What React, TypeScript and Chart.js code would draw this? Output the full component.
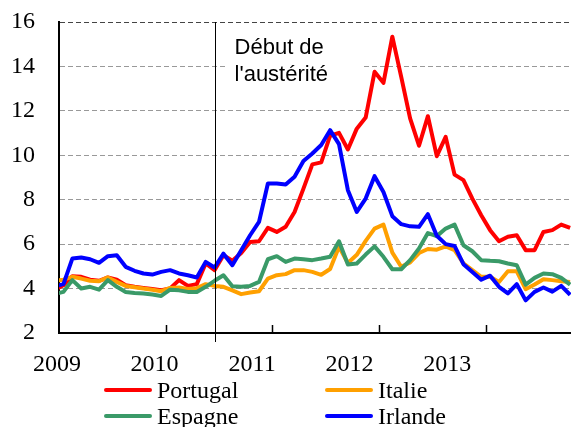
import React, { useEffect, useRef } from 'react';
import { Chart, registerables } from 'chart.js';

Chart.register(...registerables);

// Months (Dec 2008 .. Oct 2013)
const months = [
  '2008-12',
  '2009-01', '2009-02', '2009-03', '2009-04', '2009-05', '2009-06', '2009-07', '2009-08', '2009-09', '2009-10', '2009-11', '2009-12',
  '2010-01', '2010-02', '2010-03', '2010-04', '2010-05', '2010-06', '2010-07', '2010-08', '2010-09', '2010-10', '2010-11', '2010-12',
  '2011-01', '2011-02', '2011-03', '2011-04', '2011-05', '2011-06', '2011-07', '2011-08', '2011-09', '2011-10', '2011-11', '2011-12',
  '2012-01', '2012-02', '2012-03', '2012-04', '2012-05', '2012-06', '2012-07', '2012-08', '2012-09', '2012-10', '2012-11', '2012-12',
  '2013-01', '2013-02', '2013-03', '2013-04', '2013-05', '2013-06', '2013-07', '2013-08', '2013-09', '2013-10',
];

const portugal = [
  3.95,
  4.15, 4.56, 4.53, 4.4, 4.35, 4.5, 4.4, 4.15, 4.08, 4.03, 3.98, 3.93,
  4.0, 4.38, 4.12, 4.2, 5.13, 4.83, 5.5, 5.25, 5.6, 6.1, 6.13, 6.73,
  6.55, 6.78, 7.45, 8.5, 9.59, 9.68, 10.88, 11.01, 10.26, 11.2, 11.7, 13.76,
  13.26, 15.34, 13.53, 11.66, 10.43, 11.76, 9.96, 10.83, 9.13, 8.88, 8.05, 7.3,
  6.63, 6.13, 6.33, 6.4, 5.73, 5.73, 6.55, 6.63, 6.88, 6.73,
];

const italie = [
  4.35,
  4.4, 4.53, 4.45, 4.35, 4.33, 4.5, 4.3, 4.12, 4.06, 4.0, 3.95, 3.88,
  4.03, 4.05, 3.98, 4.02, 4.2, 4.12, 4.08, 3.92, 3.75, 3.82, 3.88, 4.45,
  4.6, 4.65, 4.83, 4.83, 4.75, 4.62, 4.88, 5.88, 5.15, 5.52, 6.15, 6.7,
  6.88, 5.62, 4.98, 5.18, 5.6, 5.78, 5.75, 5.9, 5.73, 5.13, 4.83, 4.53,
  4.53, 4.3, 4.78, 4.78, 3.97, 4.18, 4.42, 4.38, 4.33, 4.3,
];

const espagne = [
  3.75,
  3.85, 4.38, 4.0, 4.08, 3.95, 4.38, 4.08, 3.85, 3.8, 3.78, 3.73, 3.67,
  3.95, 3.92, 3.85, 3.85, 4.08, 4.35, 4.6, 4.1, 4.08, 4.12, 4.3, 5.32,
  5.46, 5.2, 5.35, 5.32, 5.28, 5.35, 5.43, 6.13, 5.08, 5.13, 5.53, 5.9,
  5.43, 4.87, 4.87, 5.28, 5.8, 6.5, 6.36, 6.7, 6.88, 5.95, 5.68, 5.28,
  5.25, 5.23, 5.13, 5.05, 4.18, 4.48, 4.68, 4.65, 4.48, 4.18,
];

const irlande = [
  4.1,
  4.2, 5.35, 5.4, 5.32, 5.16, 5.46, 5.5, 4.98, 4.8, 4.68, 4.63, 4.75,
  4.83, 4.68, 4.6, 4.5, 5.2, 4.95, 5.57, 5.05, 5.73, 6.4, 7.0, 8.73,
  8.73, 8.68, 9.03, 9.74, 10.08, 10.46, 11.13, 10.5, 8.43, 7.45, 8.05, 9.06,
  8.35, 7.26, 6.9, 6.8, 6.78, 7.35, 6.38, 6.0, 5.92, 5.1, 4.75, 4.4,
  4.58, 4.08, 3.78, 4.2, 3.47, 3.85, 4.05, 3.86, 4.12, 3.72,
];

const seriesNames = ['Portugal', 'Italie', 'Espagne', 'Irlande'];
const seriesColors = ['#ff0000', '#ffa000', '#3a9a68', '#0000ff'];
const seriesValues = [portugal, italie, espagne, irlande];

const yearLabels = ['2009', '2010', '2011', '2012', '2013'];
const yearStarts = ['2010-01', '2011-01', '2012-01', '2013-01'];
const austerityMonth = '2010-06';
const annotationLines = ['Début de', "l'austérité"];

const SERIF = '"Liberation Serif", "Times New Roman", serif';
const SANS = '"Liberation Sans", Arial, sans-serif';

const overlayPlugin = {
  id: 'overlay',
  beforeDatasetsDraw(chart: any) {
    const { ctx, chartArea, scales } = chart;
    const vx = scales.x.getPixelForValue(months.indexOf(austerityMonth));
    ctx.save();
    ctx.fillStyle = '#ffffff';
    ctx.fillRect(vx + 11, chartArea.top + 8, 137, 66);
    ctx.fillStyle = '#000';
    ctx.font = `22px ${SANS}`;
    ctx.textAlign = 'left';
    ctx.textBaseline = 'alphabetic';
    ctx.fillText(annotationLines[0], vx + 20, chartArea.top + 31.5);
    ctx.fillText(annotationLines[1], vx + 20, chartArea.top + 58.5);
    ctx.restore();
  },
  afterDatasetsDraw(chart: any) {
    const { ctx, chartArea, scales } = chart;
    const xs = scales.x;
    ctx.save();
    ctx.strokeStyle = '#000';
    ctx.lineWidth = 1.5;
    ctx.beginPath();
    yearStarts.forEach((m) => {
      const px = Math.round(xs.getPixelForValue(months.indexOf(m) - 0.5)) + 0.5;
      ctx.moveTo(px, chartArea.bottom);
      ctx.lineTo(px, chartArea.bottom - 8);
    });
    ctx.stroke();
    const vx = Math.round(xs.getPixelForValue(months.indexOf(austerityMonth))) + 0.5;
    ctx.lineWidth = 1;
    ctx.beginPath();
    ctx.moveTo(vx, chartArea.top);
    ctx.lineTo(vx, chartArea.bottom + 9);
    ctx.stroke();
    // year labels, positioned through the x2 scale
    const x2 = scales.x2;
    ctx.fillStyle = '#000';
    ctx.font = `24px ${SERIF}`;
    ctx.textAlign = 'center';
    ctx.textBaseline = 'middle';
    yearLabels.forEach((lab, k) => {
      ctx.fillText(lab, x2.getPixelForValue(2009 + k), chartArea.bottom + 32);
    });
    ctx.restore();
  },
};

export default function App() {
  const canvasRef = useRef<HTMLCanvasElement | null>(null);

  useEffect(() => {
    if (!canvasRef.current) return;
    const datasets = seriesNames.map((name, k) => ({
      label: name,
      data: seriesValues[k].map((v, i) => ({ x: i, y: v })),
      borderColor: seriesColors[k],
      backgroundColor: seriesColors[k],
      borderWidth: 4,
      pointRadius: 0,
      tension: 0,
      borderJoinStyle: 'round' as const,
      fill: false,
      order: seriesNames.length - k,
    }));
    const chart = new Chart(canvasRef.current, {
      type: 'line',
      data: { datasets },
      options: {
        animation: false,
        responsive: true,
        maintainAspectRatio: false,
        layout: { padding: { left: 12, top: 22, right: 0, bottom: 94 } },
        plugins: { legend: { display: false }, tooltip: { enabled: false } },
        scales: {
          x: {
            type: 'linear',
            position: 'bottom',
            min: 0.5,
            max: 58.1,
            grid: { display: false, drawTicks: false },
            border: { display: true, color: '#000', width: 2 },
            ticks: { display: false },
          },
          x2: {
            type: 'linear',
            position: 'bottom',
            display: false,
            min: 2009.02,
            max: 2014.27,
          },
          y: {
            min: 2,
            max: 16,
            afterFit: (scale: any) => {
              scale.width = 47;
              scale.paddingTop = 0;
              scale.paddingBottom = 0;
            },
            grid: {
              drawTicks: false,
              color: (c: any) => (c.tick && c.tick.value === 16 ? '#444' : '#999'),
              lineWidth: 1,
            },
            border: { display: true, color: '#000', width: 2, dash: [5, 3] },
            ticks: {
              stepSize: 2,
              padding: 24,
              color: '#000',
              font: { family: SERIF, size: 24 },
            },
          },
        },
      },
      plugins: [overlayPlugin],
    });
    return () => chart.destroy();
  }, []);

  const legendRow = (k: number, left: number, top: number) => (
    <div key={k} style={{ position: 'absolute', left, top, height: 26, display: 'flex', alignItems: 'center' }}>
      <div style={{ width: 48, height: 4, borderRadius: 2, background: seriesColors[k] }} />
      <span style={{ marginLeft: 5, fontFamily: SERIF, fontSize: 24, color: '#000', lineHeight: '26px' }}>{seriesNames[k]}</span>
    </div>
  );

  return (
    <div style={{ position: 'fixed', left: 0, top: 0, width: 571, height: 427, background: '#fff', overflow: 'hidden' }}>
      <canvas ref={canvasRef} style={{ width: '571px', height: '427px', display: 'block' }} />
      {legendRow(0, 104, 377)}
      {legendRow(1, 325, 377)}
      {legendRow(2, 104, 403)}
      {legendRow(3, 325, 403)}
    </div>
  );
}
